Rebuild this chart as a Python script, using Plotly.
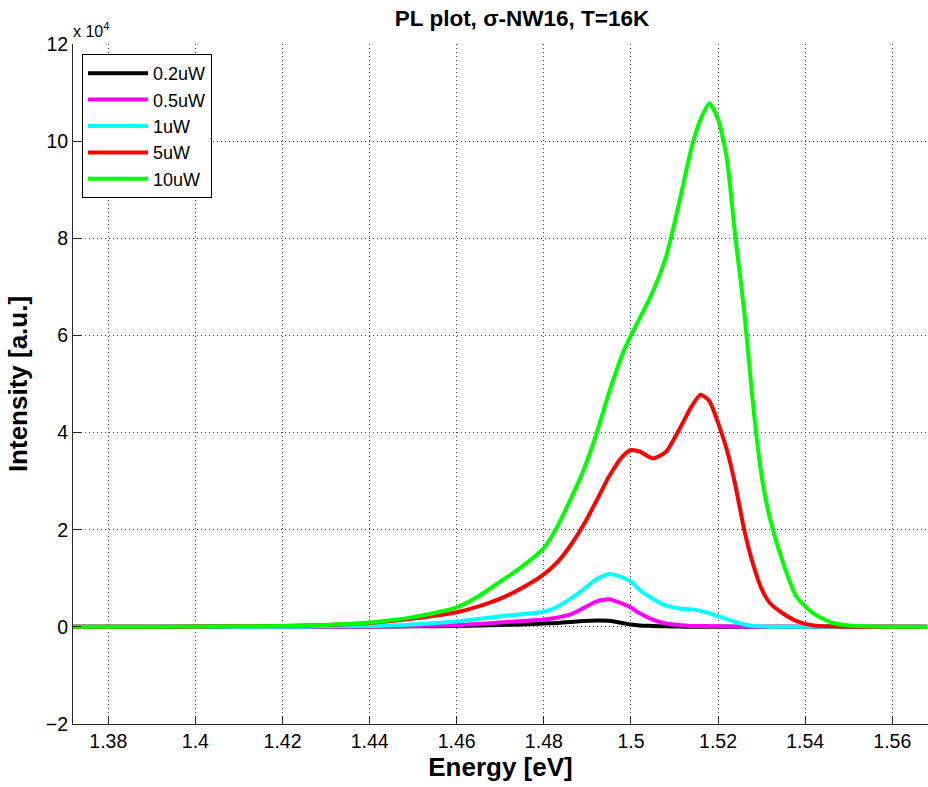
import plotly.graph_objects as go

# Photon energy grid [eV]
energy_ev = [1.372, 1.38, 1.40, 1.42, 1.43, 1.44, 1.45, 1.46, 1.465, 1.47, 1.475, 1.48,
             1.483, 1.486, 1.489, 1.492, 1.495, 1.498, 1.500, 1.502, 1.505, 1.508, 1.511, 1.514,
             1.516, 1.518, 1.520, 1.522, 1.524, 1.526, 1.528, 1.530, 1.532, 1.535, 1.538,
             1.542, 1.546, 1.55, 1.555, 1.56, 1.568]

# PL intensity in units of 1e4 a.u.
int_0p2uW = [0, 0, 0, 0, 0, 0.005, 0.01, 0.02, 0.03, 0.04, 0.05, 0.07,
             0.08, 0.10, 0.12, 0.13, 0.125, 0.08, 0.05, 0.03, 0.02, 0.01, 0.005, 0,
             0, 0, 0, 0, 0, 0, 0, 0, 0, 0, 0,
             0, 0, 0, 0, 0, 0]
int_0p5uW = [0, 0, 0, 0, 0, 0.01, 0.02, 0.04, 0.06, 0.09, 0.12, 0.15,
             0.19, 0.25, 0.38, 0.52, 0.57, 0.48, 0.40, 0.28, 0.15, 0.07, 0.04, 0.02,
             0.02, 0.015, 0.01, 0.01, 0.005, 0, 0, 0, 0, 0, 0,
             0, 0, 0, 0, 0, 0]
int_1uW = [0, 0, 0, 0, 0.01, 0.02, 0.05, 0.11, 0.16, 0.22, 0.26, 0.31,
           0.41, 0.57, 0.76, 0.98, 1.09, 1.02, 0.93, 0.76, 0.58, 0.44, 0.38, 0.36,
           0.33, 0.28, 0.22, 0.16, 0.10, 0.05, 0.02, 0.01, 0, 0, 0,
           0, 0, 0, 0, 0, 0]
int_5uW = [0, 0, 0.005, 0.02, 0.04, 0.08, 0.17, 0.30, 0.42, 0.58, 0.80, 1.08,
           1.32, 1.66, 2.08, 2.58, 3.10, 3.50, 3.64, 3.61, 3.47, 3.60, 4.05, 4.55,
           4.78, 4.65, 4.20, 3.65, 2.90, 2.00, 1.30, 0.78, 0.48, 0.27, 0.12,
           0.03, 0.01, 0, 0, 0, 0]
int_10uW = [0, 0, 0.005, 0.02, 0.04, 0.09, 0.20, 0.40, 0.63, 0.93, 1.24, 1.62,
            2.05, 2.60, 3.20, 3.95, 4.83, 5.60, 6.00, 6.35, 6.90, 7.60, 8.70, 9.90,
            10.45, 10.78, 10.45, 9.65, 8.00, 6.50, 4.60, 3.10, 2.20, 1.30, 0.62,
            0.27, 0.09, 0.03, 0.01, 0, 0]

series_names = ["0.2uW", "0.5uW", "1uW", "5uW", "10uW"]
series_values = [int_0p2uW, int_0p5uW, int_1uW, int_5uW, int_10uW]
series_colors = ["#000000", "#ff00ff", "#00ffff", "#ff0000", "#00ff00"]

x_ticks = [1.38, 1.40, 1.42, 1.44, 1.46, 1.48, 1.50, 1.52, 1.54, 1.56]
x_tick_text = ["1.38", "1.4", "1.42", "1.44", "1.46", "1.48", "1.5", "1.52", "1.54", "1.56"]
y_ticks = [-2, 0, 2, 4, 6, 8, 10, 12]

FONT = "Liberation Sans, Arial, Helvetica, sans-serif"
W, H = 928, 787
PL, PR, PT, PB = 73, 928, 44, 724  # plot area in px

fig = go.Figure()
for name, vals, col in zip(series_names, series_values, series_colors):
    fig.add_trace(go.Scatter(x=energy_ev, y=vals, mode="lines", name=name,
                             line=dict(color=col, width=4, shape="spline", smoothing=0.6)))

axis_common = dict(showline=True, linecolor="#262626", linewidth=1, ticks="inside",
                   tickcolor="#262626", ticklen=8, showgrid=True, gridcolor="#444444",
                   gridwidth=1, griddash="1px,3px", zeroline=False,
                   tickfont=dict(family=FONT, size=19.5, color="#000000"))

fig.update_layout(
    width=W, height=H,
    margin=dict(l=PL, r=W - PR, t=PT, b=H - PB),
    paper_bgcolor="white", plot_bgcolor="white",
    title=dict(text="<b>PL plot, σ-NW16, T=16K</b>", x=522 / W, xref="container",
               xanchor="center", y=1 - 18 / H, yref="container", yanchor="middle",
               font=dict(family=FONT, size=22.5, color="#000000")),
    xaxis=dict(range=[1.3719, 1.5682], tickvals=x_ticks, ticktext=x_tick_text,
               title=dict(text="<b>Energy [eV]</b>", font=dict(family=FONT, size=26, color="#000000"),
                          standoff=4),
               **axis_common),
    yaxis=dict(range=[-2, 12], tickvals=y_ticks,
               title=dict(text="<b>Intensity [a.u.]</b>", font=dict(family=FONT, size=26, color="#000000"),
                          standoff=10),
               **axis_common),
    legend=dict(x=(82 - PL) / (PR - PL), y=1 - (54 - PT) / (PB - PT), xanchor="left", yanchor="top",
                bgcolor="white", bordercolor="#000000", borderwidth=1, itemwidth=60,
                font=dict(family=FONT, size=18, color="#000000"), tracegroupgap=0),
    showlegend=True,
)

fig.add_annotation(text="x 10<sup>4</sup>", xref="paper", yref="paper", x=0, y=1,
                   xanchor="left", yanchor="bottom", showarrow=False, xshift=-2, yshift=2,
                   font=dict(family=FONT, size=16, color="#000000"))

fig.write_html("out.html")
